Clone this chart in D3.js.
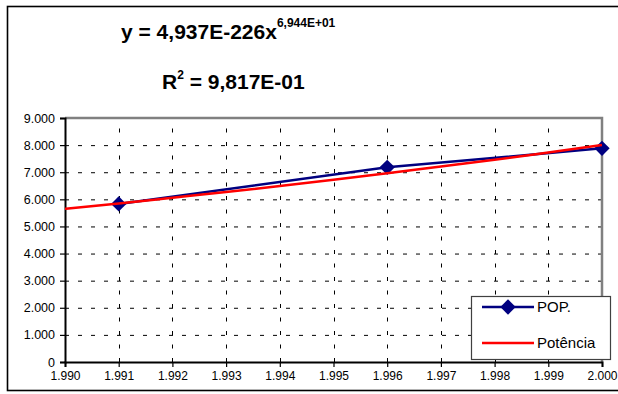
<!DOCTYPE html>
<html>
<head>
<meta charset="utf-8">
<script src="https://cdn.jsdelivr.net/npm/d3@7"></script>
<style>
  body { margin: 0; background: #fff; }
  svg { display: block; font-family: Arial, "Liberation Sans", sans-serif; }
</style>
</head>
<body>
<div id="chart"></div>
<script>
// observed population (POP.)
var popYears = [1991, 1996, 2000];
var popValues = [5830, 7180, 7880];

// power trendline (Potência), read at each year
var trendYears = [1990, 1991, 1992, 1993, 1994, 1995, 1996, 1997, 1998, 1999, 2000];
var trendValues = [5650, 5850, 6060, 6270, 6490, 6720, 6960, 7210, 7460, 7730, 8000];

var xTicks = [1990, 1991, 1992, 1993, 1994, 1995, 1996, 1997, 1998, 1999, 2000];
var yTicks = [0, 1000, 2000, 3000, 4000, 5000, 6000, 7000, 8000, 9000];

var seriesNames = ["POP.", "Potência"];
var colors = { pop: "#000080", trend: "#ff0000" };

var W = 618, H = 394;
var margin = { top: 118, right: 16, bottom: 32, left: 65 },
    width = 602 - margin.left,
    height = 362 - margin.top;

var svg = d3.select("#chart").append("svg")
    .attr("width", W)
    .attr("height", H);

// outer chart frame
svg.append("rect")
    .attr("x", 7.5).attr("y", 6.5)
    .attr("width", 614).attr("height", 384)
    .attr("fill", "#fff")
    .attr("stroke", "#000")
    .attr("stroke-width", 1.6);

var x = d3.scaleLinear().domain([1990, 2000]).range([0, width]);
var y = d3.scaleLinear().domain([0, 9000]).range([height, 0]);

var g = svg.append("g")
    .attr("transform", "translate(" + margin.left + "," + margin.top + ")");

// gridlines
g.append("g").selectAll("line")
    .data(yTicks.filter(function (d) { return d > 0 && d < 9000; }))
    .enter().append("line")
    .attr("x1", 0).attr("x2", width)
    .attr("y1", function (d) { return y(d) + 0.5; })
    .attr("y2", function (d) { return y(d) + 0.5; })
    .attr("stroke", "#000")
    .attr("stroke-width", 1)
    .attr("stroke-dasharray", "4,9");

g.append("g").selectAll("line")
    .data(xTicks.filter(function (d) { return d > 1990 && d < 2000; }))
    .enter().append("line")
    .attr("x1", function (d) { return Math.round(x(d)) + 0.5; })
    .attr("x2", function (d) { return Math.round(x(d)) + 0.5; })
    .attr("y1", height).attr("y2", 0)
    .attr("stroke", "#000")
    .attr("stroke-width", 1)
    .attr("stroke-dasharray", "4,9.5");

// plot area border (top and right, gray)
g.append("path")
    .attr("d", "M0," + y(9000) + "H" + x(2000) + "V" + height)
    .attr("fill", "none")
    .attr("stroke", "#808080")
    .attr("stroke-width", 2.5);

// axes
var fmt = function (d) { return d3.format(",")(d).replace(/,/g, "."); };
var yAxis = g.append("g")
    .call(d3.axisLeft(y).tickValues(yTicks).tickSize(5).tickPadding(5).tickFormat(fmt));
var xAxis = g.append("g")
    .attr("transform", "translate(0," + height + ")")
    .call(d3.axisBottom(x).tickValues(xTicks).tickSize(5).tickPadding(4).tickFormat(fmt));

[yAxis, xAxis].forEach(function (a) {
    a.attr("font-family", "Arial, 'Liberation Sans', sans-serif");
    a.select(".domain").attr("stroke", "#000").attr("stroke-width", 2);
    a.selectAll(".tick line").attr("stroke", "#000").attr("stroke-width", 1.2);
    a.selectAll("text").attr("fill", "#000");
});
yAxis.attr("font-size", 12.5);
xAxis.attr("font-size", 12);

// lines
var popData = popYears.map(function (d, i) { return { x: d, y: popValues[i] }; });
var trendData = trendYears.map(function (d, i) { return { x: d, y: trendValues[i] }; });

var line = d3.line()
    .x(function (d) { return x(d.x); })
    .y(function (d) { return y(d.y); });

g.append("path")
    .datum(popData)
    .attr("d", line)
    .attr("fill", "none")
    .attr("stroke", colors.pop)
    .attr("stroke-width", 2.5);

var diamond = d3.symbol().type(d3.symbolDiamond2).size(150);

g.selectAll(".marker")
    .data(popData)
    .enter().append("path")
    .attr("class", "marker")
    .attr("d", diamond)
    .attr("transform", function (d) { return "translate(" + x(d.x) + "," + y(d.y) + ")"; })
    .attr("fill", colors.pop);

g.append("path")
    .datum(trendData)
    .attr("d", line.curve(d3.curveMonotoneX))
    .attr("fill", "none")
    .attr("stroke", colors.trend)
    .attr("stroke-width", 2.5);

// equation label
var eq = svg.append("text")
    .attr("x", 121).attr("y", 39)
    .attr("font-weight", "bold")
    .attr("font-size", "21px")
    .attr("fill", "#000");
eq.append("tspan").text("y = 4,937E-226x");
eq.append("tspan").attr("dy", -12).attr("font-size", "12px").text("6,944E+01");

var r2 = svg.append("text")
    .attr("x", 162).attr("y", 89)
    .attr("font-weight", "bold")
    .attr("font-size", "21px")
    .attr("fill", "#000");
r2.append("tspan").text("R");
r2.append("tspan").attr("dy", -10).attr("font-size", "12px").text("2");
r2.append("tspan").attr("dy", 10).text(" = 9,817E-01");

// legend
var legend = svg.append("g").attr("transform", "translate(471,296)");
legend.append("rect")
    .attr("x", 0.5).attr("y", 0.5)
    .attr("width", 139).attr("height", 63)
    .attr("fill", "#fff")
    .attr("stroke", "#404040")
    .attr("stroke-width", 1.2);

var items = legend.selectAll(".item")
    .data(seriesNames)
    .enter().append("g")
    .attr("class", "item")
    .attr("transform", function (d, i) { return "translate(0," + (i === 0 ? 11 : 47) + ")"; });

items.append("line")
    .attr("x1", 11).attr("x2", 63)
    .attr("stroke", function (d, i) { return i === 0 ? colors.pop : colors.trend; })
    .attr("stroke-width", 2.5);

items.filter(function (d, i) { return i === 0; })
    .append("path")
    .attr("d", diamond)
    .attr("transform", "translate(37,0)")
    .attr("fill", colors.pop);

items.append("text")
    .attr("x", 66).attr("y", 5)
    .attr("font-size", "15px")
    .attr("fill", "#000")
    .text(function (d) { return d; });
</script>
</body>
</html>
